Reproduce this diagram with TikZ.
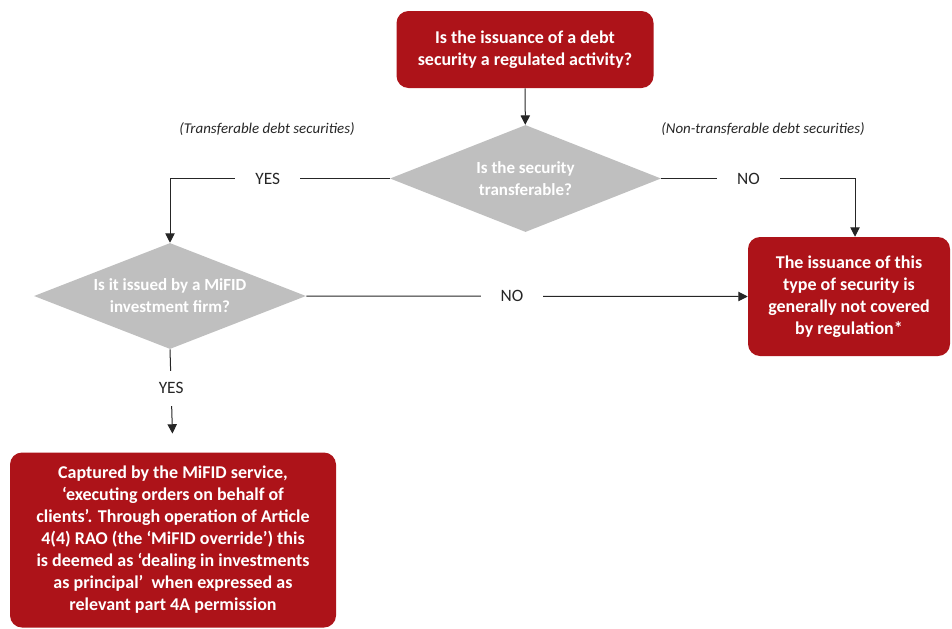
\documentclass[tikz,border=0pt]{standalone}
\usepackage{fontspec}
\setmainfont{Carlito}
\usetikzlibrary{shapes.geometric,arrows.meta}
\definecolor{boxred}{RGB}{173,19,25}
\definecolor{diagray}{RGB}{191,191,191}
\definecolor{labgray}{RGB}{38,38,38}

\begin{document}
\begin{tikzpicture}[x=0.75pt,y=-0.75pt]
		\tikzset{redbox/.style={draw=none,fill=boxred,rounded corners=9pt,text=white,align=center,font=\bfseries\fontsize{13.5}{16.5}\selectfont,inner sep=0pt},
		question/.style={diamond,draw=none,fill=diagray,text=white,align=center,font=\bfseries\fontsize{12.75}{16.5}\selectfont,inner sep=0pt,shape aspect=2.5},
		answer/.style={fill=white,text=labgray,font=\fontsize{13}{15}\selectfont,inner xsep=15pt,inner ysep=9pt},
		branch/.style={text=labgray,font=\itshape\fontsize{11.2}{13}\selectfont},
		flow/.style={draw=black!85,line width=0.75pt,-{Triangle[length=7pt,width=7pt]}}
	}
    \useasboundingbox (0,0) rectangle (952,628);
    \node [redbox,minimum width=192.75pt,minimum height=57.75pt] (start) at (525,49.5) {Is the issuance of a debt\\security a regulated activity?};
    \node [question,minimum width=203.25pt,minimum height=80.25pt] (transfer) at (525.5,178.5) {Is the security\\transferable?};
    \node [question,minimum width=204pt,minimum height=79.5pt] (mifid) at (170,296) {Is it issued by a MiFID\\investment firm?};
    \node [redbox,minimum width=151.5pt,minimum height=89.25pt] (notcovered) at (849,296.5) {The issuance of this\\type of security is\\generally not covered\\by regulation*};
    \node [redbox,minimum width=244.5pt,minimum height=131.25pt] (captured) at (173,540) {Captured by the MiFID service,\\‘executing orders on behalf of\\clients’. Through operation of Article\\4(4) RAO (the ‘MiFID override’) this\\is deemed as ‘dealing in investments\\as principal’ \ when expressed as\\relevant part 4A permission};
    \node [branch] (yesnote) at (267,129) {(Transferable debt securities)};
    \node [branch] (nonote) at (763,129) {(Non-transferable debt securities)};
    \coordinate (nctop) at ([xshift=4.5pt]notcovered.north);

    \draw [flow] (start) -- (transfer);
    \draw [flow] (transfer.west) -- node[answer,pos=0.555] {YES} (transfer.west -| mifid.north) -- (mifid.north);
    \draw [flow] (transfer.east) -- node[answer,pos=0.45] {NO} (transfer.east -| nctop) -- (nctop);
    \draw [flow] (mifid.east) -- node[answer,pos=0.466] {NO} (notcovered.west);
    \draw [flow,shorten >=14pt] (mifid.south) -- node[answer,pos=0.38] {YES} (captured.north);

	\end{tikzpicture}
\end{document}
